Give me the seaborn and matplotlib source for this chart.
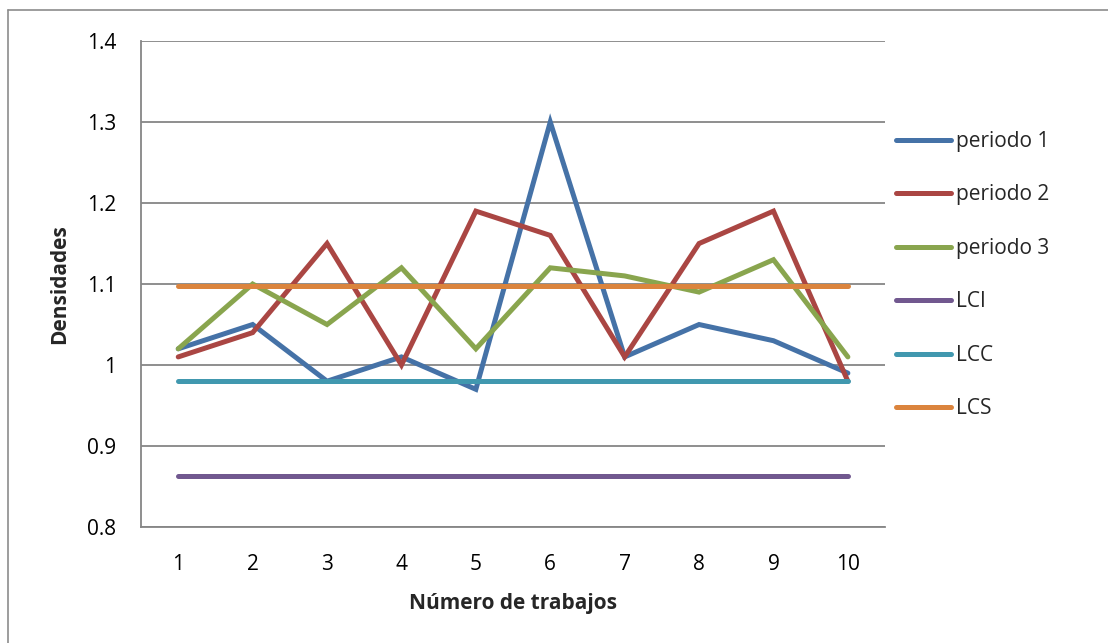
import matplotlib
matplotlib.use("Agg")
import matplotlib.pyplot as plt
from matplotlib.lines import Line2D
import seaborn as sns
import pandas as pd

trabajos = [1, 2, 3, 4, 5, 6, 7, 8, 9, 10]
periodo_1 = [1.02, 1.05, 0.98, 1.01, 0.97, 1.30, 1.01, 1.05, 1.03, 0.99]
periodo_2 = [1.01, 1.04, 1.15, 1.00, 1.19, 1.16, 1.01, 1.15, 1.19, 0.98]
periodo_3 = [1.02, 1.10, 1.05, 1.12, 1.02, 1.12, 1.11, 1.09, 1.13, 1.01]
lci = [0.863] * 10
lcc = [0.98] * 10
lcs = [1.098] * 10

series = {
    "periodo 1": periodo_1,
    "periodo 2": periodo_2,
    "periodo 3": periodo_3,
    "LCI": lci,
    "LCC": lcc,
    "LCS": lcs,
}
colores = ["#4572A7", "#AA4643", "#89A54E", "#71588F", "#4198AF", "#DB843D"]

filas = []
for nombre, valores in series.items():
    for x, v in zip(trabajos, valores):
        filas.append({"trabajo": x, "valor": v, "serie": nombre})
datos = pd.DataFrame(filas)

sns.set_style("white")
plt.rcParams["font.family"] = ["Open Sans", "DejaVu Sans"]
tam = 15

fig = plt.figure(figsize=(11.08, 6.43), dpi=100)
ax = fig.add_axes([0.1273, 0.1804, 0.6715, 0.7558])

sns.lineplot(data=datos, x="trabajo", y="valor", hue="serie",
             hue_order=list(series.keys()), palette=colores,
             linewidth=3.6, ax=ax, legend=False, zorder=3)
for linea in ax.get_lines():
    linea.set_solid_capstyle("round")
    linea.set_solid_joinstyle("miter")

ax.set_xlim(0.5, 10.5)
ax.set_ylim(0.8, 1.4)
ax.set_xticks(trabajos)
ax.set_xticklabels([str(t) for t in trabajos])
ax.set_yticks([0.8, 0.9, 1.0, 1.1, 1.2, 1.3, 1.4])
ax.set_yticklabels(["0.8", "0.9", "1", "1.1", "1.2", "1.3", "1.4"])
ax.tick_params(axis="both", length=0, labelsize=tam, colors="#000000")
ax.tick_params(axis="x", pad=19.5)
ax.tick_params(axis="y", pad=18)
ax.yaxis.grid(True, color="#868686", linewidth=1.3)
ax.set_axisbelow(True)
for lado in ["top", "right"]:
    ax.spines[lado].set_visible(False)
for lado in ["left", "bottom"]:
    ax.spines[lado].set_color("#868686")
    ax.spines[lado].set_linewidth(1.3)

ax.set_xlabel("Número de trabajos", fontsize=tam, fontweight="bold", labelpad=13)
ax.set_ylabel("Densidades", fontsize=tam, fontweight="bold", labelpad=12)

manejadores = [Line2D([0], [0], color=c, linewidth=3.6, solid_capstyle="round")
               for c in colores]
fig.legend(manejadores, list(series.keys()), loc="upper left",
           bbox_to_anchor=(0.792, 0.8255), frameon=False, fontsize=tam,
           labelspacing=1.56, handlelength=2.64, handletextpad=0.25)

# borde exterior del grafico
fig.add_artist(Line2D([8 / 1108, 1], [1 - 10 / 643, 1 - 10 / 643],
                      transform=fig.transFigure, color="#8c8c8c", linewidth=1.2))
fig.add_artist(Line2D([8 / 1108, 8 / 1108], [0, 1 - 10 / 643],
                      transform=fig.transFigure, color="#8c8c8c", linewidth=1.2))

fig.savefig("out.png", dpi=100)
